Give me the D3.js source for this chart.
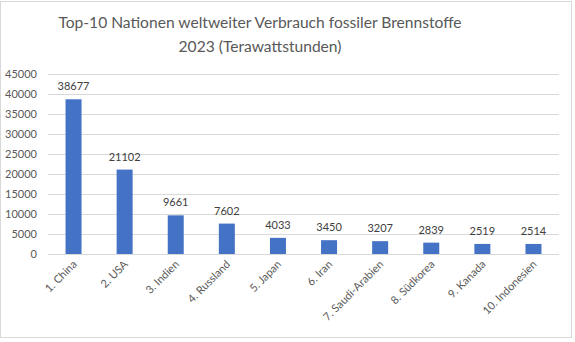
<!DOCTYPE html>
<html><head><meta charset="utf-8">
<script src="https://cdn.jsdelivr.net/npm/d3@7"></script>
<style>body{margin:0;background:#fff}svg{display:block}text{font-family:Lato,Carlito,Calibri,sans-serif}</style>
</head><body>
<svg id="c" width="575" height="342"></svg>
<script>
(function(){
const categories = ["1. China","2. USA","3. Indien","4. Russland","5. Japan","6. Iran","7. Saudi-Arabien","8. Südkorea","9. Kanada","10. Indonesien"];
const values = [38677,21102,9661,7602,4033,3450,3207,2839,2519,2514];
const yTicks = [0,5000,10000,15000,20000,25000,30000,35000,40000,45000];
const titleLines = ["Top-10 Nationen weltweiter Verbrauch fossiler Brennstoffe","2023 (Terawattstunden)"];

const svg = d3.select("#c");
svg.append("rect").attr("x",0.5).attr("y",1.5).attr("width",571).attr("height",336)
  .attr("fill","#fff").attr("stroke","#d9d9d9");

const pL=48, pR=559, pT=74, pB=254;
const x = d3.scaleBand().domain(categories).range([pL,pR]).paddingInner(0.687).paddingOuter(0.343);
const y = d3.scaleLinear().domain([0,45000]).range([pB,pT]);

const g = svg.append("g");
g.selectAll("line.grid").data(yTicks).join("line")
  .attr("x1",pL).attr("x2",pR)
  .attr("y1",d=>Math.round(y(d))+0.5).attr("y2",d=>Math.round(y(d))+0.5)
  .attr("stroke","#d9d9d9").attr("stroke-width",1);

g.selectAll("text.yt").data(yTicks).join("text")
  .attr("x",37).attr("y",d=>y(d)+4)
  .attr("text-anchor","end").attr("font-size",11).attr("fill","#595959")
  .text(d=>d);

g.selectAll("rect.bar").data(values).join("rect")
  .attr("x",(d,i)=>x(categories[i])).attr("width",x.bandwidth())
  .attr("y",d=>y(d)).attr("height",d=>pB-y(d))
  .attr("fill","#4472C4");

g.selectAll("text.val").data(values).join("text")
  .attr("x",(d,i)=>x(categories[i])+x.bandwidth()/2).attr("y",d=>y(d)-9)
  .attr("text-anchor","middle").attr("font-size",11).attr("fill","#404040")
  .text(d=>d);

g.selectAll("text.xl").data(categories).join("text")
  .attr("transform",d=>`translate(${x(d)+x.bandwidth()/2+4},${pB+11}) rotate(-45)`)
  .attr("text-anchor","end").attr("font-size",11).attr("fill","#595959")
  .text(d=>d);

svg.selectAll("text.title").data(titleLines).join("text")
  .attr("x",260).attr("y",(d,i)=>28+i*24)
  .attr("text-anchor","middle").attr("font-size",15.6).attr("fill","#595959")
  .text(d=>d);
})();
</script>
</body></html>
